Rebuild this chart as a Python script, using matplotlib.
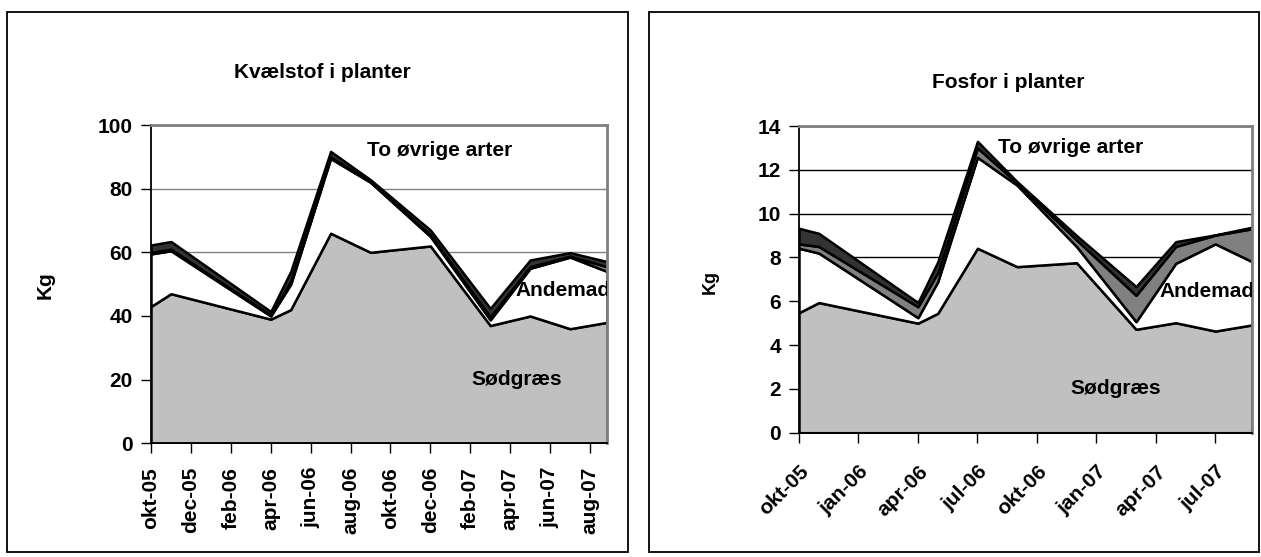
import matplotlib
matplotlib.use("Agg")
import matplotlib.pyplot as plt
from matplotlib.patches import Rectangle

# months after okt-05 for each sampling
months = [0, 1, 6, 7, 9, 11, 14, 17, 19, 21, 22.85]

# Kvælstof (kg)
n_soedgraes = [43, 47, 39, 42, 66, 60, 62, 37, 40, 36, 38]
n_andemad = [16.5, 13.5, 1.0, 8.0, 23.5, 22.0, 3.0, 1.8, 15.0, 22.5, 16.0]
n_art3 = [0.5, 0.5, 0.3, 1.0, 0.5, 0.2, 0.5, 1.0, 0.5, 0.3, 1.5]
n_art4 = [2.3, 2.4, 1.1, 3.0, 1.7, 0.6, 1.5, 2.6, 2.1, 1.1, 1.6]

# Fosfor (kg)
p_soedgraes = [5.48, 5.94, 5.0, 5.45, 8.42, 7.58, 7.76, 4.72, 5.02, 4.64, 4.92]
p_andemad = [2.94, 2.26, 0.25, 1.45, 4.15, 3.72, 0.74, 0.35, 2.71, 3.98, 2.89]
p_art3 = [0.2, 0.3, 0.5, 0.4, 0.43, 0.1, 0.3, 1.2, 0.77, 0.4, 1.5]
p_art4 = [0.71, 0.6, 0.19, 0.5, 0.3, 0.06, 0.2, 0.4, 0.22, 0.01, 0.07]

n_ticks = [0, 2, 4, 6, 8, 10, 12, 14, 16, 18, 20, 22]
n_labels = ["okt-05", "dec-05", "feb-06", "apr-06", "jun-06", "aug-06",
            "okt-06", "dec-06", "feb-07", "apr-07", "jun-07", "aug-07"]
p_ticks = [0, 3, 6, 9, 12, 15, 18, 21]
p_labels = ["okt-05", "jan-06", "apr-06", "jul-06", "okt-06", "jan-07",
            "apr-07", "jul-07"]

colors = ["#c0c0c0", "#ffffff", "#808080", "#333333"]

W, H = 1261, 557
plt.rcParams['font.family'] = ['Liberation Sans', 'DejaVu Sans']
plt.rcParams['font.weight'] = 'bold'
FS = 15

fig = plt.figure(figsize=(W / 100, H / 100), dpi=100)


def box(x0, y0, x1, y1):
    return [x0 / W, 1 - y1 / H, (x1 - x0) / W, (y1 - y0) / H]


# panel frames
for x0, x1 in [(7, 628), (649, 1259)]:
    fig.patches.append(Rectangle((x0 / W, 1 - 552 / H), (x1 - x0) / W, (552 - 12) / H,
                                 transform=fig.transFigure, fill=False,
                                 edgecolor="black", linewidth=1.3))


def make_panel(rect, series, ymax, ystep, grid_color, ticks, labels, rot):
    ax = fig.add_axes(box(*rect))
    ax.stackplot(months, *series, colors=colors, edgecolor="black", linewidth=1.8)
    ax.set_xlim(0, months[-1])
    ax.set_ylim(0, ymax)
    ax.set_yticks(range(0, ymax + 1, ystep))
    ax.yaxis.grid(True, color=grid_color, linewidth=1)
    ax.set_axisbelow(True)
    ax.set_xticks(ticks)
    if rot == 90:
        ax.set_xticklabels(labels, rotation=90, fontsize=FS, fontweight="bold")
    else:
        ax.set_xticklabels(labels, rotation=45, ha="right", rotation_mode="anchor",
                           fontsize=FS, fontweight="bold")
    for t in ax.get_yticklabels():
        t.set_fontsize(FS)
        t.set_fontweight("bold")
    ax.tick_params(axis="both", direction="out", length=7, width=1, color="black")
    ax.tick_params(axis="x", pad=10 if rot == 90 else 14)
    ax.tick_params(axis="y", pad=6)
    ax.spines["left"].set_color("black")
    ax.spines["bottom"].set_color("black")
    ax.spines["left"].set_linewidth(1.3)
    ax.spines["bottom"].set_linewidth(1.3)
    ax.spines["top"].set_color("#808080")
    ax.spines["right"].set_color("#808080")
    ax.spines["top"].set_linewidth(2)
    ax.spines["right"].set_linewidth(2)
    return ax


ax1 = make_panel((151, 125, 607, 443.3), [n_soedgraes, n_andemad, n_art3, n_art4],
                 100, 20, "#808080", n_ticks, n_labels, 90)
ax2 = make_panel((799, 126, 1252, 432.7), [p_soedgraes, p_andemad, p_art3, p_art4],
                 14, 2, "black", p_ticks, p_labels, 45)

ax1.text(10.8, 92, "To øvrige arter", fontsize=FS, fontweight="bold", va="center")
ax1.text(18.25, 48, "Andemad", fontsize=FS, fontweight="bold", va="center", clip_on=True)
ax1.text(16.05, 20, "Sødgræs", fontsize=FS, fontweight="bold", va="center")

ax2.text(10.05, 13, "To øvrige arter", fontsize=FS, fontweight="bold", va="center")
ax2.text(18.2, 6.45, "Andemad", fontsize=FS, fontweight="bold", va="center", clip_on=True)
ax2.text(13.7, 2.0, "Sødgræs", fontsize=FS, fontweight="bold", va="center")

fig.text(322 / W, 1 - 73 / H, "Kvælstof i planter", fontsize=15, fontweight="bold",
         ha="center", va="center")
fig.text(1008 / W, 1 - 82 / H, "Fosfor i planter", fontsize=15, fontweight="bold",
         ha="center", va="center")
fig.text(45 / W, 1 - 285 / H, "Kg", fontsize=FS, fontweight="bold", rotation=90,
         ha="center", va="center")
fig.text(710 / W, 1 - 282 / H, "Kg", fontsize=13, fontweight="bold", rotation=90,
         ha="center", va="center")

fig.savefig("out.png", dpi=100)
